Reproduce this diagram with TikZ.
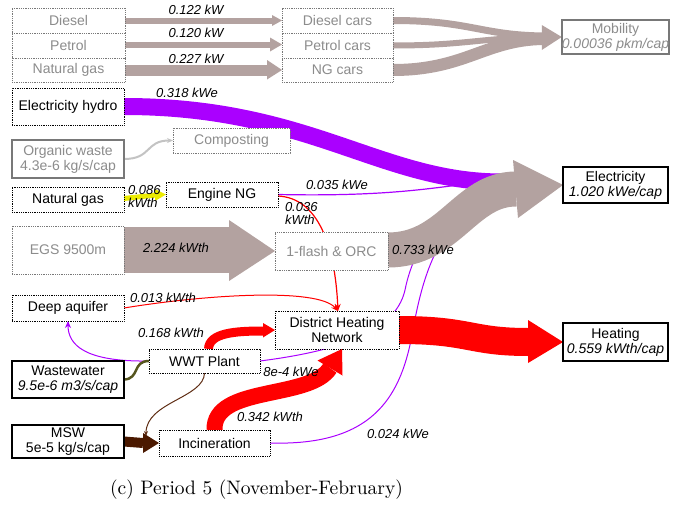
\documentclass[tikz,border=0pt]{standalone}
\usepackage{fontspec}
\newfontfamily\sankeyfont{Liberation Sans}
\usetikzlibrary{arrows.meta,calc}

\definecolor{flowgray}{RGB}{179,162,160}
\definecolor{elecpurple}{RGB}{170,0,255}
\definecolor{txtgray}{RGB}{140,140,140}
\definecolor{bordgray}{RGB}{120,120,120}
\definecolor{mswbrown}{RGB}{75,25,0}
\definecolor{sludgebrown}{RGB}{95,45,20}
\definecolor{wwolive}{RGB}{85,85,30}
\definecolor{compgray}{RGB}{195,195,195}
\definecolor{ngyellow}{RGB}{235,235,0}

\pgfdeclarelayer{flows}
\pgfsetlayers{flows,main}

\begin{document}
\begin{tikzpicture}[x=1pt,y=-1pt,
  every node/.style={inner sep=0pt, outer sep=0pt},
  boxfont/.style={font=\sankeyfont\fontsize{14}{15}\selectfont},
  proc/.style={boxfont, draw=black, densely dotted, line width=0.8pt, fill=white, align=center},
  procgray/.style={proc, draw=bordgray, text=txtgray},
  endbox/.style={boxfont, draw=black, solid, line width=1.6pt, fill=white, align=center},
  endgray/.style={endbox, draw=bordgray, text=txtgray},
  flowlabel/.style={font=\sankeyfont\itshape\fontsize{13}{13}\selectfont, align=left},
  thin/.style={line width=1pt},
  tip/.style={-{Stealth[length=7pt,width=6pt]}}
]
\useasboundingbox (0,0) rectangle (673,506);

% ---------- boxes ----------
\node[procgray, minimum width=113pt, minimum height=25pt] (diesel) at (68.5,20.5) {Diesel};
\node[procgray, minimum width=113pt, minimum height=25pt] (petrol) at (68.5,45.5) {Petrol};
\node[procgray, minimum width=113pt, minimum height=24pt] (ngas) at (68.5,70) {Natural gas};
\node[procgray, minimum width=111pt, minimum height=25pt] (dcars) at (337.5,20.5) {Diesel cars};
\node[procgray, minimum width=111pt, minimum height=25pt] (pcars) at (337.5,45.5) {Petrol cars};
\node[procgray, minimum width=111pt, minimum height=24pt] (ngcars) at (337.5,70) {NG cars};
\node[endgray, minimum width=105pt, minimum height=34pt] (mobility) at (615.5,37) {Mobility\\\textit{0.00036 pkm/cap}};

\node[proc, minimum width=112pt, minimum height=37pt] (hydro) at (68,106.5) {Electricity hydro};
\node[endgray, minimum width=112pt, minimum height=38pt] (organic) at (68,159) {Organic waste\\4.3e-6 kg/s/cap};
\node[procgray, minimum width=117pt, minimum height=25pt] (compost) at (231.5,140.5) {Composting};
\node[proc, minimum width=112pt, minimum height=25pt] (ng2) at (68,199.5) {Natural gas};
\node[proc, minimum width=112pt, minimum height=25pt] (engine) at (222,194.5) {Engine NG};
\node[procgray, minimum width=112pt, minimum height=48pt] (egs) at (68,250) {EGS 9500m};
\node[procgray, minimum width=113pt, minimum height=38pt] (flash) at (331.5,251) {1-flash \& ORC};
\node[endbox, minimum width=105pt, minimum height=36pt] (elec) at (615.5,185) {Electricity\\\textit{1.020 kWe/cap}};

\node[proc, minimum width=112pt, minimum height=26pt] (aquifer) at (68,308) {Deep aquifer};
\node[proc, minimum width=124pt, minimum height=38pt] (dhn) at (337,330) {District Heating\\Network};
\node[endbox, minimum width=105pt, minimum height=38pt] (heating) at (615.5,342) {Heating\\\textit{0.559 kWth/cap}};
\node[proc, minimum width=111pt, minimum height=24pt] (wwt) at (204.5,361) {WWT Plant};
\node[endbox, minimum width=112pt, minimum height=37pt] (wastewater) at (68,379.5) {Wastewater\\\textit{9.5e-6 m3/s/cap}};
\node[endbox, minimum width=112pt, minimum height=33pt] (msw) at (68,441.5) {MSW\\5e-5 kg/s/cap};
\node[proc, minimum width=111pt, minimum height=26pt] (incin) at (214.5,443) {Incineration};

% ---------- flows (drawn beneath the boxes) ----------
\begin{pgfonlayer}{flows}
  % fuels to cars
  \draw[flowgray, line width=6pt] (diesel.east) -- ($(dcars.west)+(-10,0)$);
  \fill[flowgray] ($(dcars.west)+(-10,-5.5)$) -- (dcars.west) -- ($(dcars.west)+(-10,5.5)$) -- cycle;
  \draw[flowgray, line width=6pt] ($(petrol.east)+(0,-1)$) -- ($(pcars.west)+(-12,-1)$);
  \fill[flowgray] ($(pcars.west)+(-12,-8)$) -- ($(pcars.west)+(0,-1)$) -- ($(pcars.west)+(-12,6)$) -- cycle;
  \draw[flowgray, line width=11pt] (ngas.east) -- ($(ngcars.west)+(-15,0)$);
  \fill[flowgray] ($(ngcars.west)+(-15,-10)$) -- (ngcars.west) -- ($(ngcars.west)+(-15,9.5)$) -- cycle;

  % cars to mobility
  \coordinate (mobbase) at ($(mobility.west)+(-20,0)$);
  \draw[flowgray, line width=7pt] (dcars.east) .. controls (470,20.5) and (480,35) .. ($(mobbase)+(1,-1)$);
  \draw[flowgray, line width=6pt] (pcars.east) .. controls (465,45.5) and (480,38) .. ($(mobbase)+(1,0)$);
  \draw[flowgray, line width=12pt] (ngcars.east) .. controls (465,70) and (485,40) .. ($(mobbase)+(1,2)$);
  \fill[flowgray] ($(mobbase)+(0,-12)$) -- (mobility.west) -- ($(mobbase)+(0,13)$) -- cycle;

  % thin electricity lines towards the electricity arrow
  \draw[elecpurple, line width=1.2pt] (engine.east) .. controls (400,197) and (440,186) .. (500,180);
  \draw[elecpurple, thin] (wwt.east) .. controls (330,352) and (395,335) .. (405,290)
        .. controls (415,240) and (450,195) .. (500,183);
  \draw[elecpurple, thin] (incin.east) .. controls (370,446) and (400,400) .. (412,335)
        .. controls (420,290) and (430,250) .. (460,215)
        .. controls (475,198) and (490,188) .. (505,183);

  % hydro electricity
  \draw[elecpurple, line width=17pt] (hydro.east) .. controls (310,106.5) and (380,182) .. (502,182);

  % geothermal
  \draw[flowgray, line width=46pt] (egs.east) -- ($(flash.west)+(-46,-1)$);
  \fill[flowgray] ($(flash.west)+(-46,-31)$) -- (flash.west) -- ($(flash.west)+(-46,30)$) -- cycle;
  \coordinate (elecbase) at (516,189);
  \draw[flowgray, line width=35pt] ($(flash.east)+(0,-1)$) .. controls (450,250) and (465,189) .. (elecbase);
  \fill[flowgray] (513,160) -- (elec.west) -- (518,218) -- cycle;

  % heat to the district heating network
  \coordinate (dhntop) at ($(dhn.north)+(1,0)$);
  \draw[red, line width=1.2pt, tip] ($(engine.east)+(0,1.5)$) .. controls (318,198) and (335,245) .. (dhntop);
  \draw[red, thin, tip] (aquifer.east) .. controls (210,294) and (318,288) .. (dhntop);
  \draw[red, line width=9pt] ($(wwt.north)+(4,0)$) .. controls (209,333) and (235,331) .. ($(dhn.west)+(-12,1)$);
  \fill[red] ($(dhn.west)+(-12,-7)$) -- (dhn.west) -- ($(dhn.west)+(-12,7.5)$) -- cycle;
  \draw[red, line width=16pt] (incin.north) .. controls (213,385) and (310,400) .. (330,368);
  \fill[red] (317.5,360.5) -- ($(dhn.south)+(5,0)$) -- (342.5,375.5) -- cycle;

  % district heating to heating demand
  \draw[red, line width=28pt] (dhn.east) .. controls (470,330) and (470,342) .. ($(heating.west)+(-35,0)$);
  \fill[red] ($(heating.west)+(-35,-22)$) -- (heating.west) -- ($(heating.west)+(-35,21)$) -- cycle;

  % waste streams
  \draw[compgray, line width=2pt, -{Stealth[length=6pt,width=5pt]}] (organic.east) .. controls (152,159) and (145,140.5) .. (compost.west);
  \coordinate (ngstart) at ($(ng2.east)+(0,-1)$);
  \draw[ngyellow, line width=5pt] (ngstart) -- ($(engine.west)+(-10,0.5)$);
  \fill[ngyellow] ($(engine.west)+(-11,-5.5)$) -- (engine.west) -- ($(engine.west)+(-11,6.5)$) -- cycle;
  \draw[elecpurple, thin, tip] (wwt.west) .. controls (85,362) and (68,345) .. (aquifer.south);
  \draw[wwolive, line width=2.5pt] (wastewater.east) .. controls (140,379) and (132,361) .. (wwt.west);
  \coordinate (sludgeend) at ($(incin.north west)+(-13,6)$);
  \draw[sludgebrown, thin, -{Stealth[length=5pt,width=4pt]}] (wwt.south) .. controls (204,398) and (146,402) .. (sludgeend);
  \draw[mswbrown, line width=10pt] (msw.east) -- ($(incin.west)+(-16,0)$);
  \fill[mswbrown] ($(incin.west)+(-16,-10)$) -- (incin.west) -- ($(incin.west)+(-16,10)$) -- cycle;
\end{pgfonlayer}

% ---------- flow values ----------
\node[flowlabel] (l1) at (196,10) {0.122 kW};
\node[flowlabel] (l2) at (196,33) {0.120 kW};
\node[flowlabel] (l3) at (196,59) {0.227 kW};
\node[flowlabel] (l4) at (187,93) {0.318 kWe};
\node[flowlabel, anchor=west] (l5) at (128,197) {0.086\\kWth};
\node[flowlabel] (l6) at (337,185) {0.035 kWe};
\node[flowlabel, anchor=west] (l7) at (285,214) {0.036\\kWth};
\node[flowlabel] (l8) at (176,248) {2.224 kWth};
\node[flowlabel] (l9) at (423,250) {0.733 kWe};
\node[flowlabel] (l10) at (163,298) {0.013 kWth};
\node[flowlabel] (l11) at (171,333) {0.168 kWth};
\node[flowlabel] (l12) at (291,372) {8e-4 kWe};
\node[flowlabel] (l13) at (270,417) {0.342 kWth};
\node[flowlabel] (l14) at (398,434) {0.024 kWe};

% ---------- caption ----------
\node (caption) at (256.5,490) {\scalebox{1.95}{(c) Period 5 (November-February)}};
\end{tikzpicture}
\end{document}
